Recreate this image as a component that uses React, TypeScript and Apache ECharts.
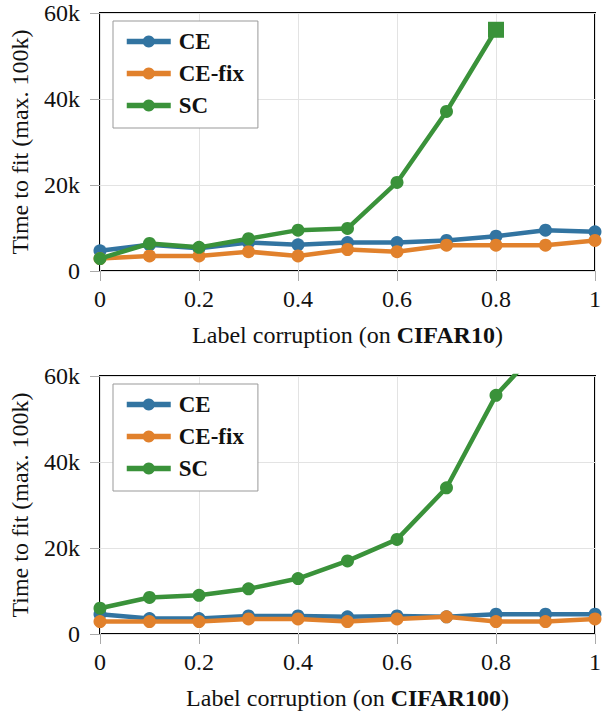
import React, { useEffect, useRef } from "react";
import * as echarts from "echarts";

// Label corruption levels (x values)
const corruption = [0, 0.1, 0.2, 0.3, 0.4, 0.5, 0.6, 0.7, 0.8, 0.9, 1.0];

// Time to fit, in thousands of steps — CIFAR10
const ceCifar10 = [4.7, 6.1, 5.3, 6.6, 6.1, 6.6, 6.6, 7.1, 8.1, 9.5, 9.1];
const ceFixCifar10 = [2.9, 3.5, 3.5, 4.5, 3.5, 5.0, 4.5, 6.0, 6.0, 6.0, 7.1];
const scCifar10 = [2.9, 6.4, 5.5, 7.5, 9.5, 9.9, 20.6, 37.1, 56.1];

// Time to fit, in thousands of steps — CIFAR100
const ceCifar100 = [4.6, 3.6, 3.6, 4.2, 4.2, 4.0, 4.2, 4.0, 4.6, 4.6, 4.6];
const ceFixCifar100 = [2.9, 2.9, 2.9, 3.5, 3.5, 2.9, 3.5, 4.0, 2.9, 2.9, 3.5];
const scCifar100 = [6.0, 8.5, 9.0, 10.5, 12.9, 17.0, 22.0, 34.0, 55.5, 68.0];

const seriesNames = ["CE", "CE-fix", "SC"];
const seriesColors = ["#3274a1", "#e1812c", "#3a923a"];
const datasetNames = ["CIFAR10", "CIFAR100"];
const yTicks = [0, 20, 40, 60];
const xTicks = [0, 0.2, 0.4, 0.6, 0.8, 1];

const FONT = "Liberation Serif";
const FS = 24;

function pairs(vals: number[]) {
  return vals.map((v, i) => [corruption[i], v]);
}

export default function App() {
  const ref = useRef<HTMLDivElement>(null);

  useEffect(() => {
    if (!ref.current) return;
    const chart = echarts.init(ref.current, undefined, { renderer: "svg" });

    const gridTops = [13, 376];
    const gridH = 258;

    const grids = gridTops.map((t) => ({
      left: 96,
      right: 2,
      top: t,
      height: gridH,
      show: true,
      borderColor: "#000",
      borderWidth: 2,
      backgroundColor: "transparent",
    }));

    const xAxes = gridTops.map((_, i) => ({
      type: "value",
      gridIndex: i,
      min: 0,
      max: 1,
      interval: 0.2,
      name: `Label corruption (on {b|${datasetNames[i]}})`,
      nameLocation: "middle",
      nameGap: 52,
      nameTextStyle: {
        fontFamily: FONT,
        fontSize: FS,
        color: "#111",
        rich: { b: { fontFamily: FONT, fontSize: FS, fontWeight: "bold", color: "#111" } },
      },
      axisLine: { show: false },
      axisTick: { show: true, length: 10, lineStyle: { color: "#aaa", width: 1 } },
      axisLabel: {
        margin: 16,
        fontFamily: FONT,
        fontSize: FS,
        color: "#111",
        formatter: (v: number) => {
          const t = xTicks.find((x) => Math.abs(x - v) < 1e-9);
          return t === undefined ? "" : String(t);
        },
      },
      splitLine: { show: true, lineStyle: { color: "#e3e3e3", width: 1 } },
    }));

    const yAxes = gridTops.map((_, i) => ({
      type: "value",
      gridIndex: i,
      min: 0,
      max: 60,
      interval: 20,
      name: "Time to fit (max. 100k)",
      nameLocation: "middle",
      nameGap: 68,
      nameTextStyle: { fontFamily: FONT, fontSize: FS, color: "#111" },
      axisLine: { show: false },
      axisTick: { show: true, length: 10, lineStyle: { color: "#aaa", width: 1 } },
      axisLabel: {
        margin: 20,
        fontFamily: FONT,
        fontSize: FS,
        color: "#111",
        formatter: (v: number) => (yTicks.includes(v) ? (v === 0 ? "0" : `${v}k`) : ""),
      },
      splitLine: { show: true, lineStyle: { color: "#e3e3e3", width: 1 } },
    }));

    const allData = [
      [ceCifar10, ceFixCifar10, scCifar10],
      [ceCifar100, ceFixCifar100, scCifar100],
    ];

    const series: any[] = [];
    allData.forEach((group, gi) => {
      group.forEach((vals, si) => {
        const data: any[] = pairs(vals);
        if (gi === 0 && si === 2) {
          const last = data.length - 1;
          data[last] = { value: data[last], symbol: "rect", symbolSize: 16 };
        }
        series.push({
          type: "line",
          name: seriesNames[si],
          xAxisIndex: gi,
          yAxisIndex: gi,
          data,
          symbol: "circle",
          symbolSize: 13,
          clip: true,
          z: 3 + si,
          lineStyle: { width: 4.5, color: seriesColors[si] },
          itemStyle: { color: seriesColors[si] },
          emphasis: { disabled: true },
        });
      });
    });

    const legends = gridTops.map((t) => ({
      show: true,
      orient: "vertical",
      left: 113,
      top: t + 8,
      data: seriesNames,
      itemWidth: 44,
      itemHeight: 15,
      itemGap: 9,
      padding: [9, 14, 11, 11],
      borderColor: "#999",
      borderWidth: 1,
      borderRadius: 0,
      backgroundColor: "#fff",
      selectedMode: false,
      lineStyle: { width: 5.5 },
      textStyle: {
        fontFamily: FONT,
        fontSize: 23,
        fontWeight: "bold",
        color: "#111",
        lineHeight: 22,
        padding: [0, 0, 0, 3],
      },
    }));

    chart.setOption({
      animation: false,
      backgroundColor: "#fff",
      grid: grids,
      xAxis: xAxes,
      yAxis: yAxes,
      legend: legends,
      series,
    } as any);

    return () => {
      chart.dispose();
    };
  }, []);

  return (
    <div
      ref={ref}
      style={{ position: "absolute", left: 0, top: 0, width: 604, height: 711 }}
    />
  );
}
